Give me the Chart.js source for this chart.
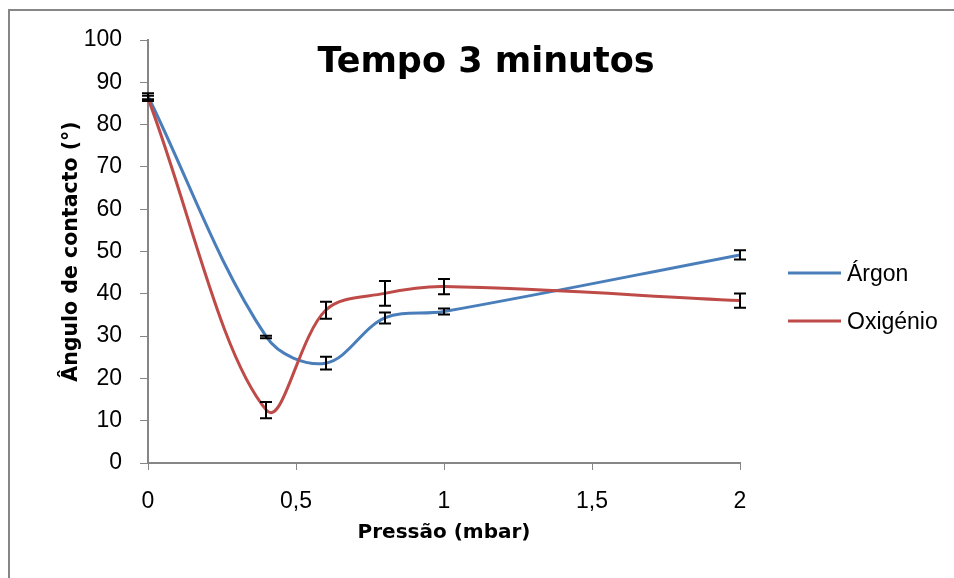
<!DOCTYPE html>
<html>
<head>
<meta charset="utf-8">
<script src="https://cdn.jsdelivr.net/npm/chart.js@4.4.1/dist/chart.umd.min.js"></script>
<style>
  html, body { margin: 0; padding: 0; background: #fff; }
  #wrap { position: relative; width: 954px; height: 578px; }
</style>
</head>
<body>
<div id="wrap"><canvas id="chart"></canvas></div>
<script>
// ── Data ──
const pressao = [0, 0.4, 0.6, 0.8, 1, 2];
const argon = [86.7, 29.8, 23.6, 34.3, 35.8, 49.2];
const argonErr = [0.7, 0.3, 1.5, 1.3, 0.7, 1.1];
const oxigenio = [86.2, 12.5, 36.1, 40.1, 41.7, 38.4];
const oxigenioErr = [0.6, 1.9, 2.0, 2.9, 1.8, 1.7];
const xTicks = [0, 0.5, 1, 1.5, 2];
const yTicks = [0, 10, 20, 30, 40, 50, 60, 70, 80, 90, 100];

const C = { argon: '#4a7ebb', oxigenio: '#be4b48', axis: '#868686' };
const pts = (xs, ys) => xs.map((x, i) => ({ x, y: ys[i] }));
const comma = v => String(v).replace('.', ',');

Chart.defaults.font.family = "'Liberation Sans', Arial, sans-serif";
Chart.defaults.color = '#000';

// Frame around the whole chart
const frame = {
  id: 'frame',
  beforeDraw(chart) {
    const { ctx } = chart;
    ctx.save();
    ctx.strokeStyle = C.axis;
    ctx.lineWidth = 2;
    ctx.strokeRect(9, 10, chart.width + 20, chart.height + 20);
    ctx.restore();
  }
};

// Vertical error bars with caps
const errorBars = {
  id: 'errorBars',
  afterDatasetsDraw(chart) {
    const { ctx, scales: { x, y } } = chart;
    ctx.save();
    ctx.strokeStyle = '#000';
    ctx.lineWidth = 2;
    chart.data.datasets.forEach(ds => {
      ds.data.forEach((p, i) => {
        const px = Math.round(x.getPixelForValue(p.x));
        const top = y.getPixelForValue(p.y + ds.errors[i]);
        const bot = y.getPixelForValue(p.y - ds.errors[i]);
        ctx.beginPath();
        ctx.moveTo(px, top); ctx.lineTo(px, bot);
        ctx.moveTo(px - 6, top); ctx.lineTo(px + 6, top);
        ctx.moveTo(px - 6, bot); ctx.lineTo(px + 6, bot);
        ctx.stroke();
      });
    });
    ctx.restore();
  }
};

// Title over the plot and legend on the right
const decor = {
  id: 'decor',
  afterDraw(chart) {
    const { ctx, chartArea: a } = chart;
    ctx.save();
    ctx.fillStyle = '#000';
    ctx.font = "bold 35px 'DejaVu Sans'";
    ctx.textAlign = 'center';
    ctx.textBaseline = 'alphabetic';
    ctx.fillText('Tempo 3 minutos', 486, 72);

    ctx.font = "23px 'Liberation Sans'";
    ctx.textAlign = 'left';
    ctx.textBaseline = 'middle';
    chart.data.datasets.forEach((ds, i) => {
      const ly = 273 + i * 48;
      ctx.strokeStyle = ds.borderColor;
      ctx.lineWidth = 3;
      ctx.beginPath();
      ctx.moveTo(a.right + 48, ly);
      ctx.lineTo(a.right + 101, ly);
      ctx.stroke();
      ctx.fillText(ds.label, a.right + 107, ly + 2);
    });
    ctx.restore();
  }
};

const lineOpts = color => ({
  borderColor: color, backgroundColor: color, borderWidth: 3,
  pointRadius: 0, tension: 0.35, fill: false
});

new Chart(document.getElementById('chart'), {
  type: 'line',
  data: {
    datasets: [
      { label: 'Árgon', data: pts(pressao, argon), errors: argonErr, order: 1, ...lineOpts(C.argon) },
      { label: 'Oxigénio', data: pts(pressao, oxigenio), errors: oxigenioErr, order: 0, ...lineOpts(C.oxigenio) },
    ]
  },
  options: {
    responsive: true, maintainAspectRatio: false, animation: false,
    devicePixelRatio: 1,
    layout: { padding: { left: 0, right: 214, top: 40, bottom: 0 } },
    plugins: { legend: { display: false }, tooltip: { enabled: false } },
    scales: {
      x: {
        type: 'linear', min: 0, max: 2,
        afterBuildTicks: s => { s.ticks = xTicks.map(v => ({ value: v })); },
        afterFit: s => { s.height = 115; },
        grid: { drawOnChartArea: false, tickLength: 7, color: C.axis },
        border: { color: C.axis, width: 2 },
        ticks: { font: { size: 23 }, padding: 18, callback: v => comma(v) },
        title: { display: true, text: 'Pressão (mbar)', padding: { bottom: 33, top: 0 },
          font: { family: "'DejaVu Sans'", weight: 'bold', size: 20 } }
      },
      y: {
        min: 0, max: 100,
        afterBuildTicks: s => { s.ticks = yTicks.map(v => ({ value: v })); },
        afterFit: s => { s.width = 148; },
        grid: { drawOnChartArea: false, tickLength: 8, color: C.axis },
        border: { color: C.axis, width: 2 },
        ticks: { font: { size: 23 }, padding: 18 },
        title: { display: true, text: 'Ângulo de contacto (°)', padding: { top: 59, bottom: 0 },
          font: { family: "'DejaVu Sans'", weight: 'bold', size: 20.5 } }
      }
    }
  },
  plugins: [frame, errorBars, decor]
});
</script>
</body>
</html>
